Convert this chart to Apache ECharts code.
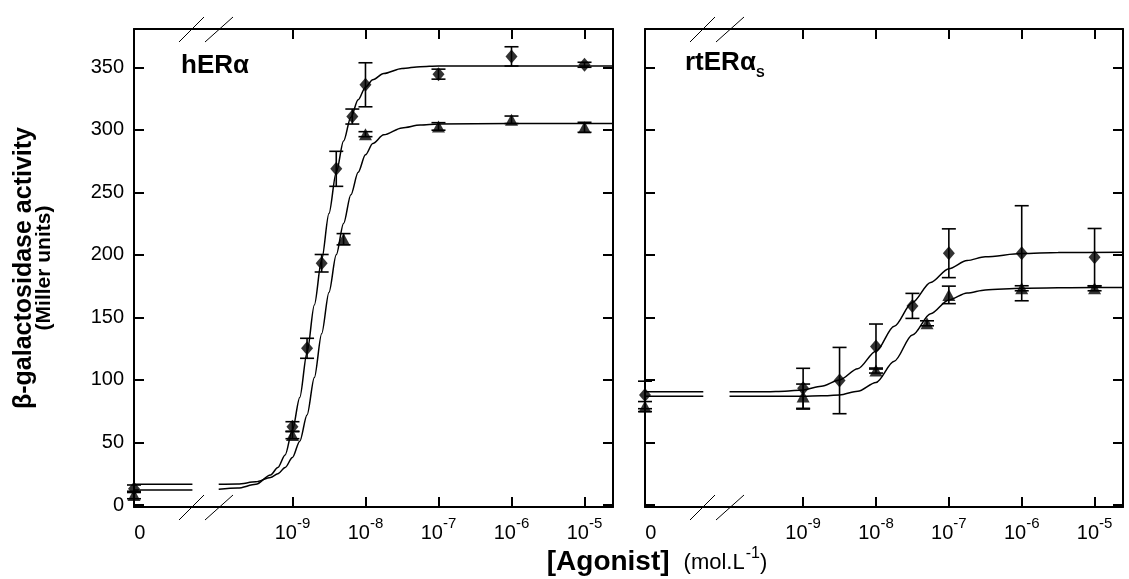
<!DOCTYPE html>
<html><head><meta charset="utf-8">
<script src="https://cdn.jsdelivr.net/npm/echarts@6/dist/echarts.min.js"></script>
<style>html,body{margin:0;padding:0;background:#fff}#c{width:1129px;height:579px}</style>
</head><body><div id="c"></div>
<script>
// x values are log10 of concentration; X_ZERO is the position where the zero-dose point is plotted
const X_ZERO = -11.17;
const X_MAX = -4.61;
const X_BREAK_A = -10.37;
const X_BREAK_B = -10.01;
const xTickValues = [-9, -8, -7, -6, -5];
const xTickLabels = ['-9', '-8', '-7', '-6', '-5'];
const xZeroLabelPos = -11.09;
const yTickValues = [0, 50, 100, 150, 200, 250, 300, 350];

// ---- hERα panel ----
const hER_dia_x = [X_ZERO, -9, -8.80, -8.60, -8.40, -8.18, -8, -7, -6, -5];
const hER_dia_y = [13, 62.6, 125.3, 193.3, 268.8, 310.6, 336, 344.5, 358.7, 352];
const hER_dia_e = [3, 4, 8, 7, 14, 6, 17.6, 4, 7.7, 2];
const hER_tri_x = [X_ZERO, -9, -8.30, -8, -7, -6, -5];
const hER_tri_y = [8, 56, 212.5, 296.5, 302.7, 308, 302];
const hER_tri_e = [3, 3, 4.5, 2, 3, 3, 4];
// fitted curves
const hER_diaFit_base = 12;
const hER_diaFit_x = [X_BREAK_B, -9.75, -9.5, -9.3, -9.2, -9.1, -9.0, -8.9, -8.8, -8.7, -8.6, -8.5, -8.4, -8.3, -8.2, -8.1, -8.0, -7.9, -7.75, -7.5, -7.25, -7.0, -6.0, X_MAX];
const hER_diaFit_y = [12.5, 13.5, 16.5, 24, 30, 40, 60, 86, 122, 160, 196, 233, 266, 291, 310, 324, 334, 340, 345, 349, 350.5, 351, 351, 351];
const hER_triFit_base = 16.5;
const hER_triFit_x = [X_BREAK_B, -9.75, -9.5, -9.3, -9.2, -9.1, -9.0, -8.9, -8.8, -8.7, -8.6, -8.5, -8.4, -8.3, -8.2, -8.1, -8.0, -7.9, -7.75, -7.5, -7.25, -7.0, -6.0, X_MAX];
const hER_triFit_y = [16.5, 16.8, 18.5, 22, 25, 30, 38, 51, 72, 102, 137, 170, 200, 225, 248, 266, 280, 289, 296, 301.5, 303.8, 304.6, 305, 305];

// ---- rtERαS panel ----
const rt_dia_x = [X_ZERO, -9, -8.5, -8, -7.5, -7, -6, -5];
const rt_dia_y = [88, 93.3, 99.5, 126.7, 159.2, 201.3, 201.3, 198.1];
const rt_dia_e = [11, 16, 26.5, 18, 10, 19.5, 38, 23];
const rt_tri_x = [X_ZERO, -9, -8, -7.3, -7, -6, -5];
const rt_tri_y = [78.7, 86.7, 107.5, 145.3, 168, 173.3, 173.3];
const rt_tri_e = [4, 10, 2, 2, 7, 2, 2];
const rt_diaFit_base = 90.5;
const rt_diaFit_x = [X_BREAK_B, -9.5, -9.25, -9.0, -8.75, -8.5, -8.25, -8.0, -7.75, -7.5, -7.25, -7.0, -6.75, -6.5, -6.0, -5.5, X_MAX];
const rt_diaFit_y = [90.5, 90.6, 91, 92, 95, 100, 109, 123, 143, 162, 178, 189, 195.5, 198.5, 201, 201.8, 202];
const rt_triFit_base = 87;
const rt_triFit_x = [X_BREAK_B, -9.0, -8.75, -8.5, -8.25, -8.0, -7.75, -7.5, -7.25, -7.0, -6.75, -6.5, -6.0, -5.0, X_MAX];
const rt_triFit_y = [87, 87, 87.3, 88, 91, 98, 115, 136, 153, 164, 169.5, 172, 173.3, 174, 174];

const FONT = '"Liberation Sans", Arial, sans-serif';
const zip = (xs, ys) => xs.map((x, i) => [x, ys[i]]);

function xAxes(gi) {
  const base = {
    type: 'value', gridIndex: gi, min: X_ZERO, max: X_MAX,
    splitLine: { show: false },
    axisLine: { show: true, onZero: false, lineStyle: { color: '#000', width: 2 } },
    axisTick: { show: true, inside: true, length: 10, customValues: xTickValues, lineStyle: { color: '#000', width: 2 } }
  };
  const bottom = Object.assign({}, base, {
    position: 'bottom',
    axisLabel: {
      show: true, margin: 8,
      customValues: [xZeroLabelPos].concat(xTickValues),
      formatter: function (v) {
        const i = xTickValues.indexOf(Math.round(v));
        if (v < -10 || i < 0) return '{n|0}';
        return '{n|10}{s|' + xTickLabels[i] + '}';
      },
      rich: {
        n: { fontFamily: FONT, fontSize: 20, color: '#000', verticalAlign: 'bottom', padding: [8, 0, 0, 0] },
        s: { fontFamily: FONT, fontSize: 15, color: '#000', verticalAlign: 'bottom', padding: [0, 0, 12, 0] }
      }
    }
  });
  const top = Object.assign({}, base, { position: 'top', axisLabel: { show: false } });
  return [bottom, top];
}
function yAxes(gi, showLabels) {
  const base = {
    type: 'value', gridIndex: gi, min: -1.6, max: 380.6,
    splitLine: { show: false },
    axisLine: { show: true, onZero: false, lineStyle: { color: '#000', width: 2 } },
    axisTick: { show: true, inside: true, length: 10, customValues: yTickValues, lineStyle: { color: '#000', width: 2 } }
  };
  const left = Object.assign({}, base, {
    position: 'left',
    axisLabel: showLabels ? { show: true, customValues: yTickValues, margin: 10, fontFamily: FONT, fontSize: 20, color: '#000' } : { show: false }
  });
  const right = Object.assign({}, base, { position: 'right', axisLabel: { show: false } });
  return [left, right];
}

function scatter(xs, ys, gi, sym, size) {
  return { type: 'scatter', xAxisIndex: gi * 2, yAxisIndex: gi * 2, data: zip(xs, ys), symbol: sym, symbolSize: size,
    itemStyle: { color: '#000' }, z: 4, clip: false };
}
function err(xs, ys, es, gi) {
  return {
    type: 'custom', xAxisIndex: gi * 2, yAxisIndex: gi * 2, z: 3, clip: false,
    data: xs.map((x, i) => [x, ys[i] - es[i], ys[i] + es[i]]),
    encode: { x: 0, y: [1, 2] },
    renderItem: function (params, api) {
      const x = api.value(0);
      const lo = api.coord([x, api.value(1)]);
      const hi = api.coord([x, api.value(2)]);
      const w = 7, st = { stroke: '#000', lineWidth: 1.6 };
      return { type: 'group', children: [
        { type: 'line', shape: { x1: lo[0], y1: lo[1], x2: hi[0], y2: hi[1] }, style: st },
        { type: 'line', shape: { x1: lo[0] - w, y1: lo[1], x2: lo[0] + w, y2: lo[1] }, style: st },
        { type: 'line', shape: { x1: hi[0] - w, y1: hi[1], x2: hi[0] + w, y2: hi[1] }, style: st }
      ] };
    }
  };
}
function curve(xs, ys, gi) {
  return { type: 'line', xAxisIndex: gi * 2, yAxisIndex: gi * 2, data: zip(xs, ys), showSymbol: false, symbol: 'none',
    smooth: 0.3, smoothMonotone: 'x', lineStyle: { color: '#000', width: 1.5 }, z: 2, silent: true };
}
function stub(base, gi) {
  return curve([X_ZERO, X_BREAK_A], [base, base], gi);
}

const xa = xAxes(0).concat(xAxes(1));
const ya = yAxes(0, true).concat(yAxes(1, false));

function slashes(x0) {
  // decorative axis-break marks on top and bottom frames
  const out = [];
  [[0, 25], [26, 28]].forEach(function (d) {
    [29, 507].forEach(function (yc) {
      out.push({ type: 'line', shape: { x1: x0 + d[0], y1: yc + 13, x2: x0 + d[0] + d[1], y2: yc - 12 },
        style: { stroke: '#000', lineWidth: 1 }, z: 10 });
    });
  });
  return out;
}

const option = {
  animation: false,
  backgroundColor: '#fff',
  grid: [
    { left: 134, top: 29, width: 479, height: 478 },
    { left: 645, top: 29, width: 478, height: 478 }
  ],
  xAxis: xa,
  yAxis: ya,
  series: [
    stub(hER_diaFit_base, 0), curve(hER_diaFit_x, hER_diaFit_y, 0),
    stub(hER_triFit_base, 0), curve(hER_triFit_x, hER_triFit_y, 0),
    err(hER_dia_x, hER_dia_y, hER_dia_e, 0), err(hER_tri_x, hER_tri_y, hER_tri_e, 0),
    scatter(hER_dia_x, hER_dia_y, 0, 'diamond', [12, 14]), scatter(hER_tri_x, hER_tri_y, 0, 'triangle', [13, 12]),
    stub(rt_diaFit_base, 1), curve(rt_diaFit_x, rt_diaFit_y, 1),
    stub(rt_triFit_base, 1), curve(rt_triFit_x, rt_triFit_y, 1),
    err(rt_dia_x, rt_dia_y, rt_dia_e, 1), err(rt_tri_x, rt_tri_y, rt_tri_e, 1),
    scatter(rt_dia_x, rt_dia_y, 1, 'diamond', [12, 14]), scatter(rt_tri_x, rt_tri_y, 1, 'triangle', [13, 12])
  ],
  graphic: [
    { type: 'text', x: 181, y: 66, style: { text: 'hERα', fontFamily: FONT, fontSize: 26, fontWeight: 'bold', fill: '#000', verticalAlign: 'middle' } },
    { type: 'text', x: 685, y: 66, style: {
      text: '{a|rtERα}{s|S}', verticalAlign: 'middle',
      rich: { a: { fontFamily: FONT, fontSize: 26, fontWeight: 'bold', fill: '#000', verticalAlign: 'top', padding: [0, 0, 6, 0] },
              s: { fontFamily: FONT, fontSize: 13, fontWeight: 'bold', fill: '#000', verticalAlign: 'top', padding: [17, 0, 0, 0] } } } },
    { type: 'text', x: 24, y: 268, rotation: Math.PI / 2, style: { text: 'β-galactosidase activity', fontFamily: FONT, fontSize: 25, fontWeight: 'bold', fill: '#000', align: 'center', verticalAlign: 'middle' } },
    { type: 'text', x: 44, y: 268, rotation: Math.PI / 2, style: { text: '(Miller units)', fontFamily: FONT, fontSize: 21, fontWeight: 'bold', fill: '#000', align: 'center', verticalAlign: 'middle' } },
    { type: 'text', x: 657, y: 561, style: {
      text: '{a|[Agonist]}{b|(mol.L}{c|-1}{d|)}', align: 'center', verticalAlign: 'middle',
      rich: { a: { fontFamily: FONT, fontSize: 28, fontWeight: 'bold', fill: '#000', verticalAlign: 'bottom' },
              b: { fontFamily: FONT, fontSize: 22, fill: '#000', verticalAlign: 'bottom', padding: [0, 0, 2, 14] },
              c: { fontFamily: FONT, fontSize: 16, fill: '#000', verticalAlign: 'bottom', padding: [0, 0, 14, 1] },
              d: { fontFamily: FONT, fontSize: 22, fill: '#000', verticalAlign: 'bottom', padding: [0, 0, 2, 0] } } } }
  ].concat(slashes(179)).concat(slashes(690))
};

const chart = echarts.init(document.getElementById('c'), null, { renderer: 'canvas' });
chart.setOption(option);
</script>
</body></html>
